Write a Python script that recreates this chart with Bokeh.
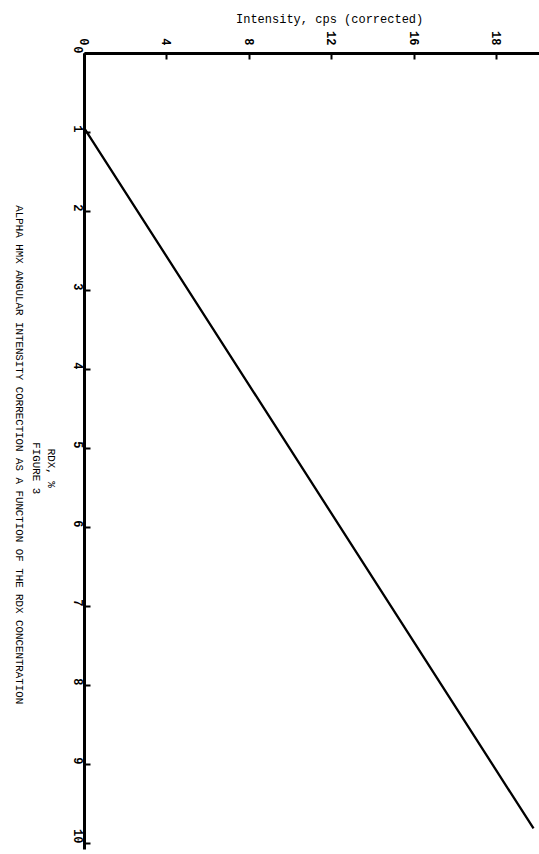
import math
from bokeh.plotting import figure
from bokeh.models import Range1d, Label, FixedTicker
from bokeh.embed import file_html
from bokeh.resources import INLINE

# ---- data ----
rdx_pct = [0.0, 0.95, 9.81]         # RDX concentration, %
intensity = [0.0, 0.0, 21.8]        # Intensity, cps (corrected)
intensity_ticks = [0, 4, 8, 12, 16, 20]
intensity_tick_labels = ["0", "4", "8", "12", "16", "18"]
rdx_ticks = [0, 1, 2, 3, 4, 5, 6, 7, 8, 9, 10]
x_title = "Intensity, cps (corrected)"
caption_lines = ["RDX, %", "FIGURE 3",
                 "ALPHA HMX ANGULAR INTENSITY CORRECTION AS A FUNCTION OF THE RDX CONCENTRATION"]

FONT = "Liberation Mono"
X_MIN, X_MAX = -4.08, 22.09
Y_MIN, Y_MAX = -0.671, 10.14

p = figure(width=539, height=854, output_backend="svg", toolbar_location=None,
           x_range=Range1d(X_MIN, X_MAX), y_range=Range1d(Y_MAX, Y_MIN),
           x_axis_location="above",
           min_border_left=0, min_border_top=0, min_border_bottom=0, min_border_right=0)

p.line(intensity, rdx_pct, line_width=2.3, line_color="black")

p.grid.visible = False
p.outline_line_color = None
p.background_fill_color = "white"

for ax in (p.xaxis[0], p.yaxis[0]):
    ax.fixed_location = 0
    ax.axis_line_width = 3
    ax.axis_line_color = "black"
    ax.major_tick_in = 6
    ax.major_tick_out = 0
    ax.major_tick_line_width = 2
    ax.major_tick_line_color = "black"
    ax.minor_tick_line_color = None
    ax.major_label_text_font = FONT
    ax.major_label_text_font_size = "12px"
    ax.major_label_text_font_style = "bold"
    ax.major_label_text_color = "black"
    ax.major_label_orientation = -math.pi / 2

p.xaxis.bounds = (0, X_MAX)
p.yaxis.bounds = (0, 10.08)
p.xaxis.ticker = FixedTicker(ticks=intensity_ticks)
p.xaxis.major_label_overrides = {t: l for t, l in zip(intensity_ticks, intensity_tick_labels)}
p.xaxis.major_label_standoff = 8
p.yaxis.ticker = FixedTicker(ticks=rdx_ticks)
p.yaxis.major_label_standoff = 6

# axis title (horizontal, above the top axis)
p.add_layout(Label(x=11.9, y=-0.43, text=x_title, text_font=FONT, text_font_size="12px",
                   text_align="center", text_baseline="middle", text_color="black"))

# rotated caption on the left
cap_pos = [(-1.65, 5.25), (-2.38, 5.25), (-3.2, 5.08)]
for (cx, cy), t in zip(cap_pos, caption_lines):
    p.add_layout(Label(x=cx, y=cy, text=t, angle=-math.pi / 2, text_font=FONT,
                       text_font_size="10.8px", text_align="center", text_baseline="middle",
                       text_color="black"))

open("out.html", "w").write(file_html(p, INLINE))
